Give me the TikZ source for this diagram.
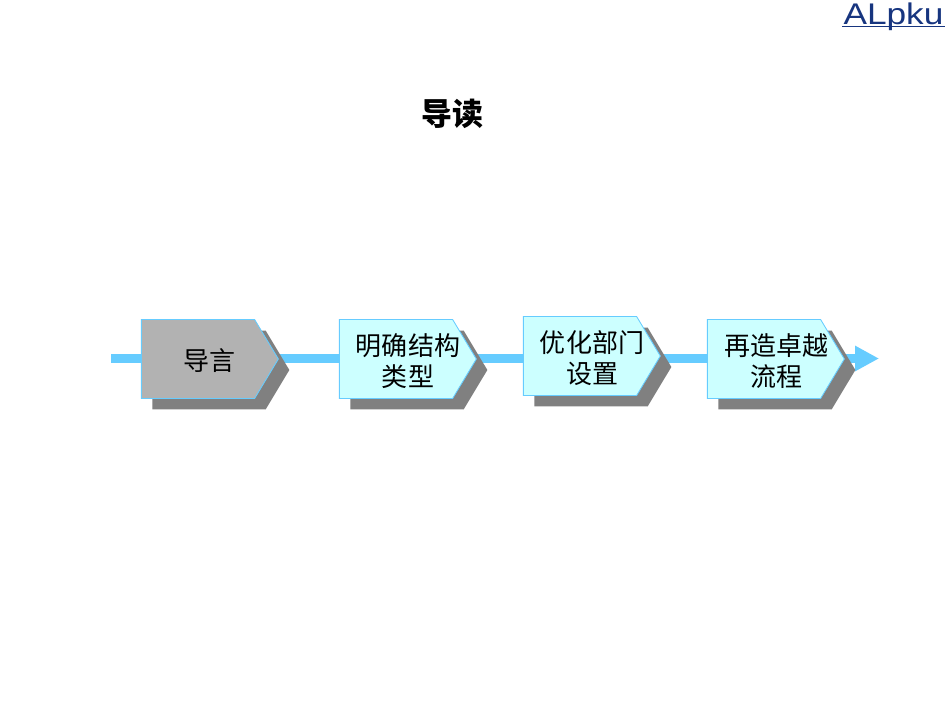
\documentclass[tikz,border=0pt]{standalone}
\usepackage{fontspec}
\usepackage{xcolor}
\setmainfont{Noto Sans CJK SC}
\newfontfamily\logofont{Liberation Sans}
\usetikzlibrary{arrows.meta,backgrounds,shadows,shapes.symbols}
\definecolor{linkblue}{HTML}{66CCFF}
\definecolor{boxcyan}{HTML}{CCFFFF}
\definecolor{boxgray}{HTML}{B2B2B2}
\definecolor{shadowgray}{HTML}{808080}
\definecolor{logoblue}{HTML}{17357F}
\tikzset{%
	stage/.style    = {draw=linkblue, line width=0.5pt, signal, signal to=east, signal pointer angle=118, minimum width=2.74cm, minimum height=1.58cm, inner sep=0pt, drop shadow={shadow xshift=0.22cm, shadow yshift=-0.22cm, fill=shadowgray, opacity=1}},
	stagecyan/.style = {stage, fill=boxcyan},
	stagegray/.style = {stage, fill=boxgray},
	stagetext/.style = {align=center, font=\fontsize{14.8pt}{18pt}\selectfont, xshift=0.24cm, yshift=-0.04cm},
	link/.style     = {draw=linkblue, line width=0.18cm},
}

\begin{document}
\begin{tikzpicture}[x=0.02cm,y=-0.02cm]
	\useasboundingbox (0,0) rectangle (950,713);
	
	\node[font=\fontsize{17.6pt}{20pt}\selectfont\bfseries] (title) at (452,113.5) {导读};
	
	\node[stagegray,label={[stagetext]center:导言}] (intro) at (198,359) {};
	\node[stagecyan,label={[stagetext]center:明确结构\\类型}] (structure) at (396,359) {};
	\node[stagecyan,label={[stagetext]center:优化部门\\设置}] (dept) at (580,356) {};
	\node[stagecyan,label={[stagetext]center:再造卓越\\流程}] (process) at (764,359) {};
	
	\coordinate (start) at (111,358.5);
	\coordinate (tip) at (879,358.5);
	\begin{scope}[on background layer]
		\draw[link] (start) -- (intro.west |- start);
		\draw[link] (intro.east |- start) -- (structure.west |- start);
		\draw[link] (structure.east |- start) -- (dept.west |- start);
		\draw[link] (dept.east |- start) -- (process.west |- start);
		\draw[link,-{Triangle[length=0.48cm,width=0.48cm]}] (process.east |- start) -- (tip);
	\end{scope}
	
	\node[font=\fontsize{17pt}{17pt}\logofont, text=logoblue, inner sep=0pt, anchor=base, xscale=1.18] (logo) at (893.5,24.5) {ALpku};
	\draw[logoblue, line width=0.03cm] (842,26.5) -- (945,26.5);
\end{tikzpicture}
\end{document}
